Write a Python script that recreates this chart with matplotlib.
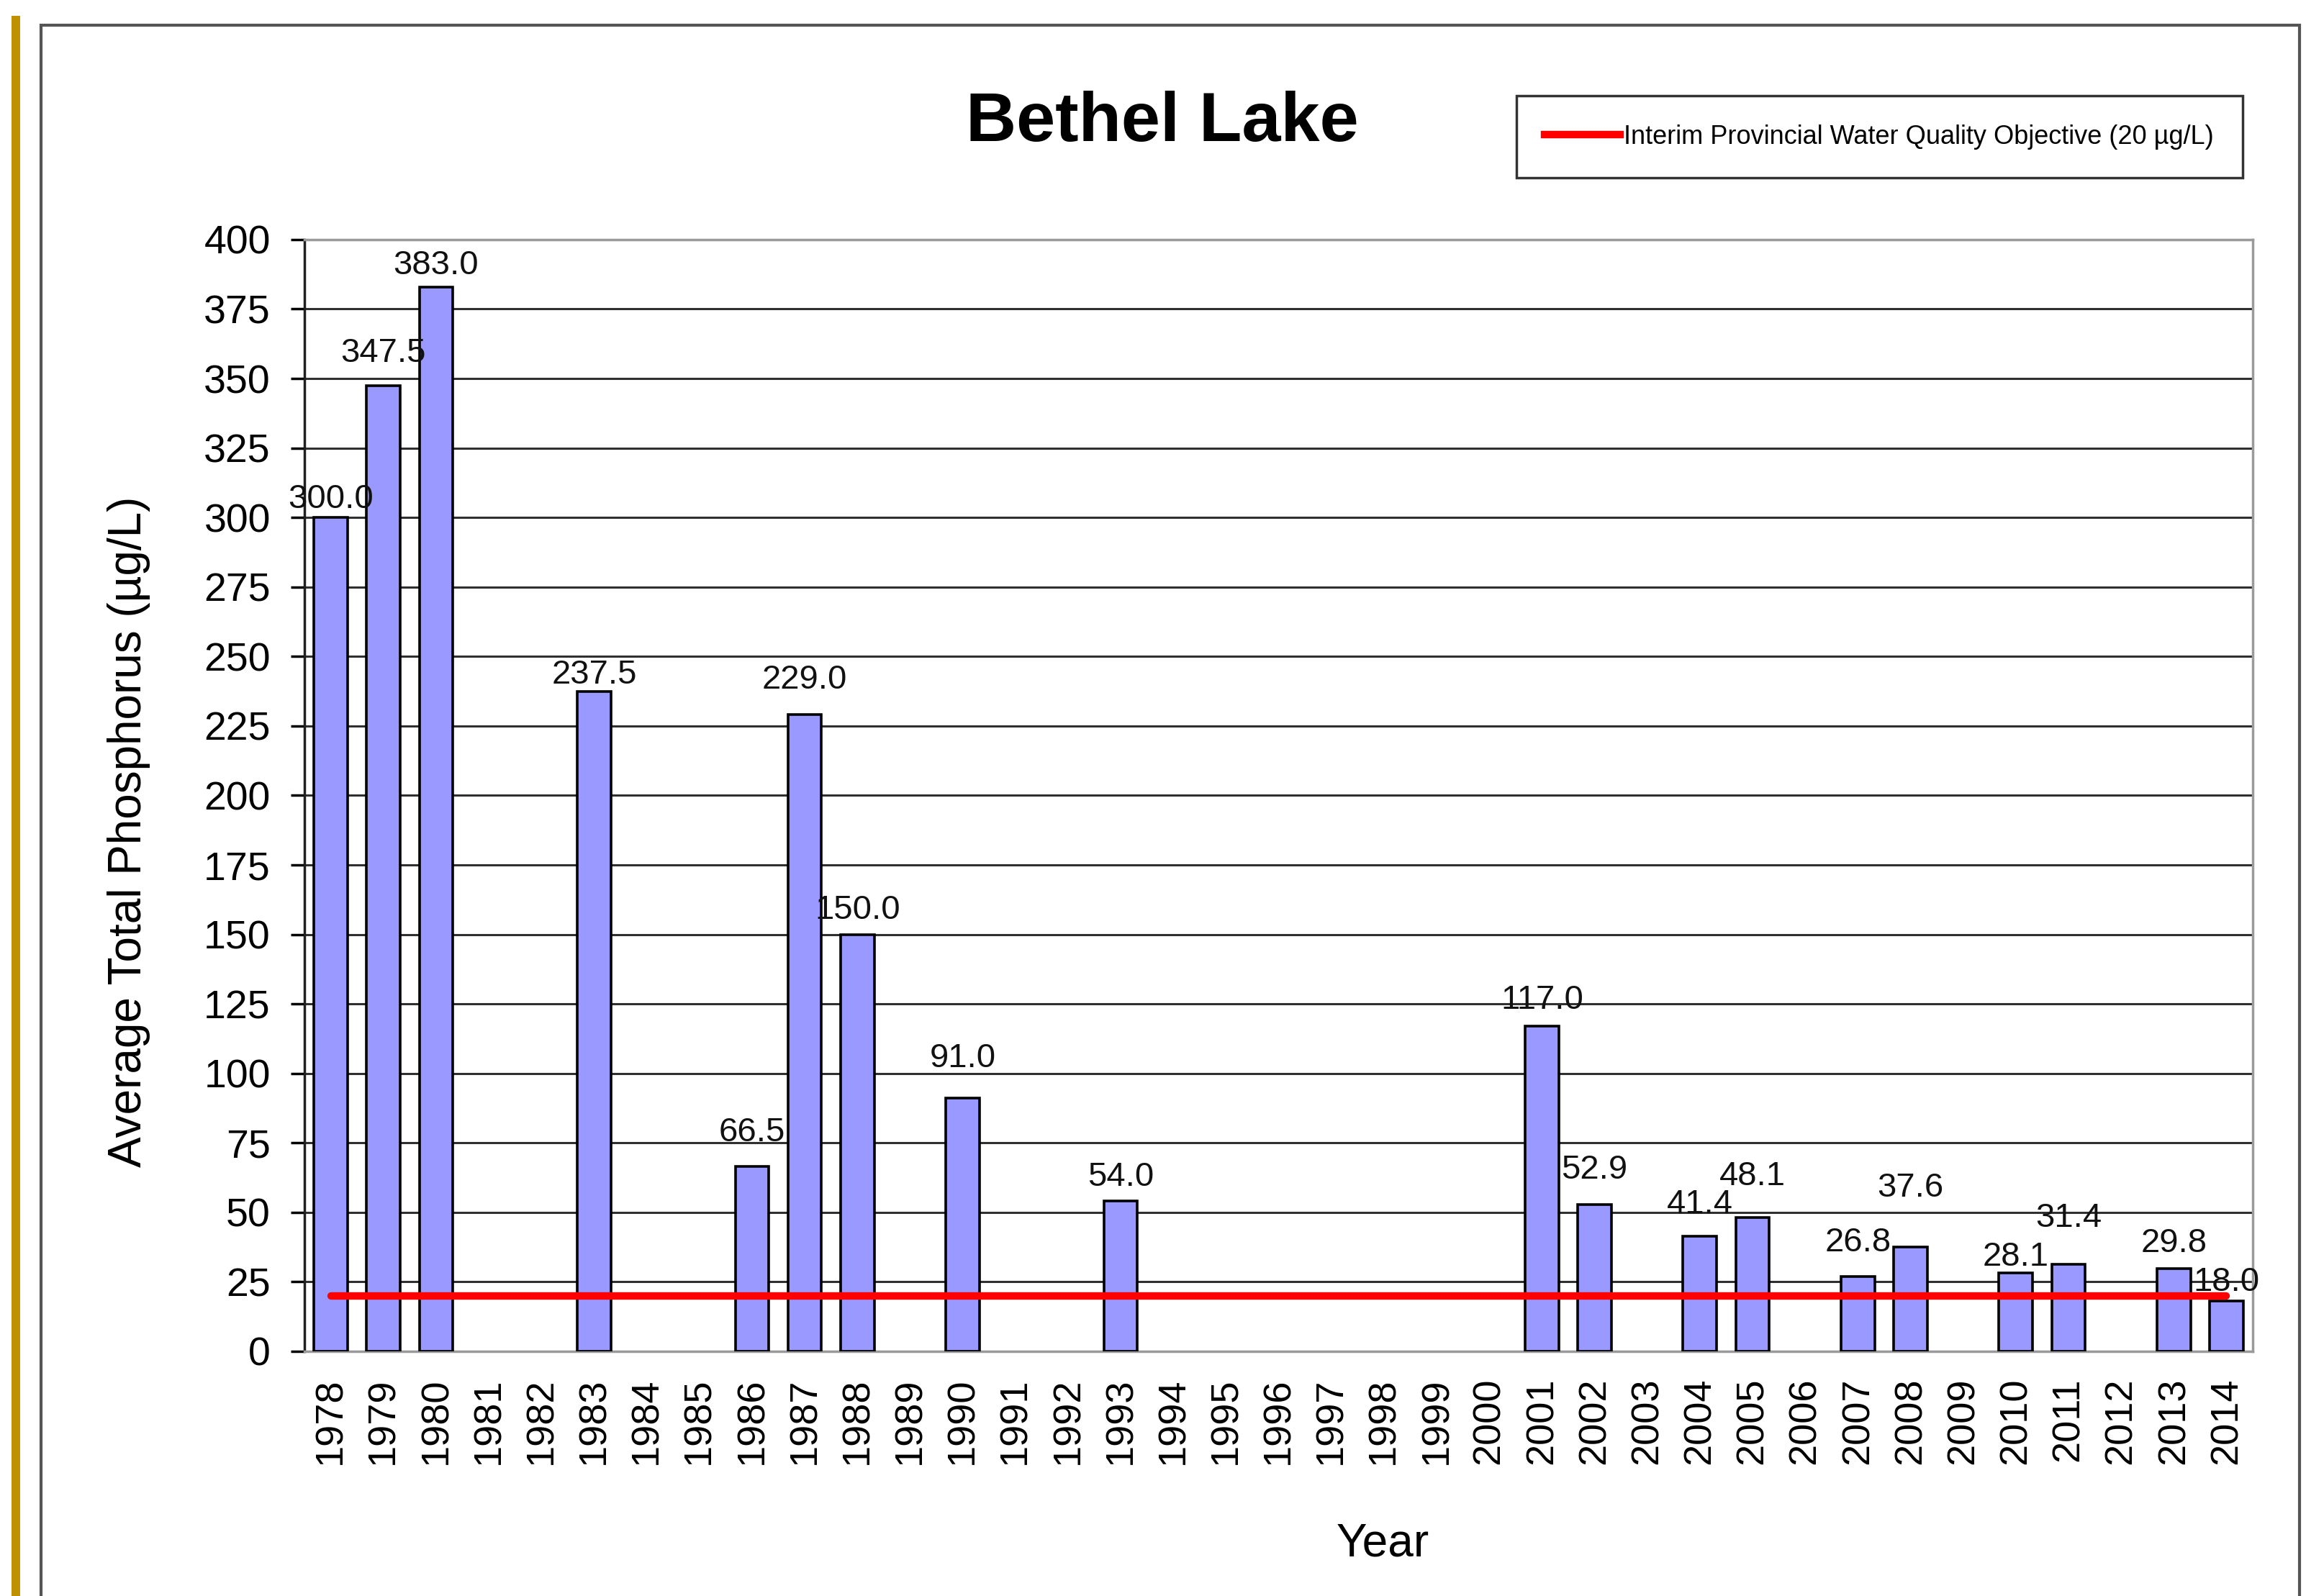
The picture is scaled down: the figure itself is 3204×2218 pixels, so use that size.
import numpy as np
import matplotlib.pyplot as plt
from matplotlib.patches import Rectangle
from matplotlib.lines import Line2D

plt.rcParams['font.family'] = ['Liberation Sans', 'DejaVu Sans']

# all years on the axis, and the years that have a measurement
years = list(range(1978, 2015))
sampleYears = [1978, 1979, 1980, 1983, 1986, 1987, 1988, 1990, 1993,
               2001, 2002, 2004, 2005, 2007, 2008, 2010, 2011, 2013, 2014]
phosphorus = [300.0, 347.5, 383.0, 237.5, 66.5, 229.0, 150.0, 91.0, 54.0,
              117.0, 52.9, 41.4, 48.1, 26.8, 37.6, 28.1, 31.4, 29.8, 18.0]
objective = 20

# how far above the bar top each label sits (points), excel staggered them
labelOffset = [18, 32, 21, 16, 34, 35, 24, 40, 24,
               26, 34, 32, 41, 34, 59, 16, 46, 25, 19]

fig = plt.figure(figsize=(32.05, 22.18), dpi=100)
ax = fig.add_axes([0.132, 0.1533, 0.8446, 0.6966])

xPos = [years.index(y) for y in sampleYears]
ax.bar(xPos, phosphorus, width=0.64, color='#9999FF', edgecolor='black',
       linewidth=2.6, zorder=3)

for x, v, dy in zip(xPos, phosphorus, labelOffset):
    ax.annotate('%.1f' % v, (x, v), xytext=(0, dy), textcoords='offset points',
                ha='center', va='center', fontsize=34, color='#111111', zorder=5)

# objective line from first to last category
ax.plot([0, len(years) - 1], [objective, objective], color='#FF0000',
        linewidth=7.5, solid_capstyle='round', zorder=4)

ax.set_xlim(-0.5, len(years) - 0.5)
ax.set_ylim(0, 400)
ax.set_yticks(np.arange(0, 401, 25))
ax.set_xticks(range(len(years)))
ax.set_xticklabels([str(y) for y in years], rotation=90, fontsize=39)
ax.tick_params(axis='x', length=0, pad=26)
ax.tick_params(axis='y', labelsize=40, length=14, width=2.5, pad=20)
ax.yaxis.grid(True, color='#303030', linewidth=2.2, zorder=1)
ax.set_axisbelow(True)

ax.spines['left'].set_color('#202020')
ax.spines['left'].set_linewidth(2.5)
for s in ['top', 'right', 'bottom']:
    ax.spines[s].set_color('#9a9a9a')
    ax.spines[s].set_linewidth(2.5)

fig.text(0.504, 0.923, 'Bethel Lake', ha='center', va='center',
         fontsize=70, fontweight='bold')
fig.text(0.056, 0.479, 'Average Total Phosphorus (\u00b5g/L)', rotation=90,
         ha='center', va='center', fontsize=46)
fig.text(0.5994, 0.0325, 'Year', ha='center', va='center', fontsize=46)

handle = Line2D([], [], color='#FF0000', linewidth=7.5)
fig.legend([handle], ['Interim Provincial Water Quality Objective (20 \u00b5g/L)'],
           loc='center', bbox_to_anchor=(0.6505, 0.8868, 0.3285, 0.055),
           fontsize=26, frameon=True, fancybox=False, edgecolor='black',
           borderpad=1.1, handlelength=2.9, handletextpad=0.15,
           borderaxespad=0)
leg = fig.legends[0]
leg.get_frame().set_linewidth(2.5)

# outer frame and the gold strip at the left edge
fig.patches.append(Rectangle((57 / 3205, -0.05), (3195 - 57) / 3205, 1.05 - 35 / 2218,
                             transform=fig.transFigure, fill=False,
                             edgecolor='#555555', linewidth=3))
fig.patches.append(Rectangle((16 / 3205, 0), 12 / 3205, 0.99,
                             transform=fig.transFigure, facecolor='#BF9000',
                             edgecolor='none'))

plt.savefig('out.png', dpi=100)
